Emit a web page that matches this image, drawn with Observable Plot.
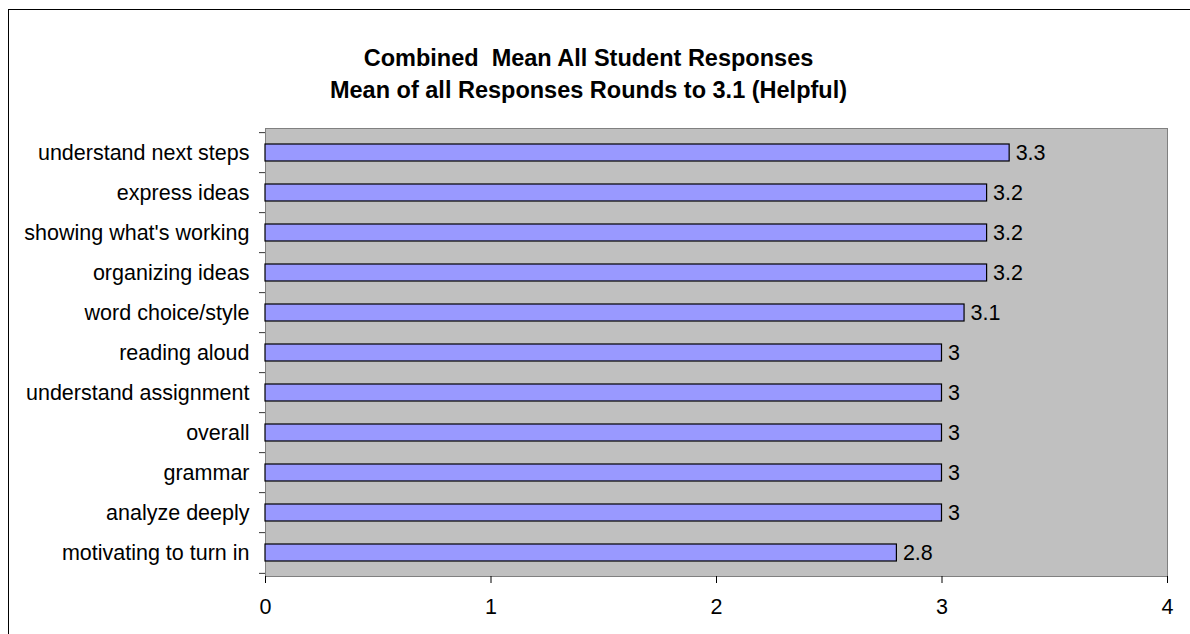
<!DOCTYPE html>
<html>
<head>
<meta charset="utf-8">
<script src="https://cdn.jsdelivr.net/npm/d3@7"></script>
<script src="https://cdn.jsdelivr.net/npm/@observablehq/plot@0.6"></script>
<style>
  html, body { margin: 0; padding: 0; background: #fff; }
  #page { position: relative; width: 1190px; height: 634px; overflow: hidden; font-family: "Liberation Sans", Arial, sans-serif; }
  #frame { position: absolute; left: 8px; top: 9px; width: 1400px; height: 800px; border-left: 1px solid #000; border-top: 1px solid #000; }
  #title { position: absolute; left: 0; width: 1177px; top: 42px; text-align: center; font-weight: bold; font-size: 23.5px; line-height: 32px; white-space: pre; color: #000; }
  #chart { position: absolute; left: 0; top: 110px; }
</style>
</head>
<body>
<div id="page">
  <div id="frame"></div>
  <div id="title">Combined  Mean All Student Responses
Mean of all Responses Rounds to 3.1 (Helpful)</div>
  <div id="chart"></div>
</div>
<script>
// Survey items, listed top to bottom
const categories = [
  "understand next steps",
  "express ideas",
  "showing what's working",
  "organizing ideas",
  "word choice/style",
  "reading aloud",
  "understand assignment",
  "overall",
  "grammar",
  "analyze deeply",
  "motivating to turn in"
];
// Mean helpfulness rating per item
const means = [3.3, 3.2, 3.2, 3.2, 3.1, 3, 3, 3, 3, 3, 2.8];
const xTicks = [0, 1, 2, 3, 4];

const rows = categories.map((c, i) => ({item: c, mean: means[i]}));

const W = 1190, H = 524;
const mTop = 18, mBottom = 58, mLeft = 265, mRight = 23;
const step = (H - mTop - mBottom) / categories.length;

const chart = Plot.plot({
  width: W,
  height: H,
  marginTop: mTop,
  marginBottom: mBottom,
  marginLeft: mLeft,
  marginRight: mRight,
  style: {fontFamily: "'Liberation Sans', Arial, sans-serif", fontSize: "21.5px", color: "#000", background: "transparent"},
  x: {domain: [0, 4]},
  y: {domain: categories, paddingInner: 0.58, paddingOuter: 0.29},
  marks: [
    Plot.frame({fill: "#c0c0c0", stroke: "#808080"}),
    Plot.barX(rows, {x: "mean", y: "item", fill: "#9999ff", stroke: "#000", strokeWidth: 1.2}),
    Plot.text(rows, {x: "mean", y: "item", text: d => String(d.mean), textAnchor: "start", dx: 6, fill: "#000"}),
    // category labels
    Plot.axisY({tickSize: 0, tickPadding: 16, label: null}),
    // tick marks on the category boundaries
    Plot.axisY({text: null, tickSize: 6, dy: -step / 2, stroke: "#333", label: null}),
    Plot.axisY({ticks: [categories[categories.length - 1]], text: null, tickSize: 6, dy: step / 2, stroke: "#333", label: null}),
    Plot.axisX({ticks: xTicks, tickSize: 7, tickPadding: 15, tickFormat: d => String(d), label: null}),
    Plot.ruleY([0], {y: () => 0, frameAnchor: "bottom", stroke: "#000"})
  ]
});
document.getElementById("chart").appendChild(chart);
</script>
</body>
</html>
